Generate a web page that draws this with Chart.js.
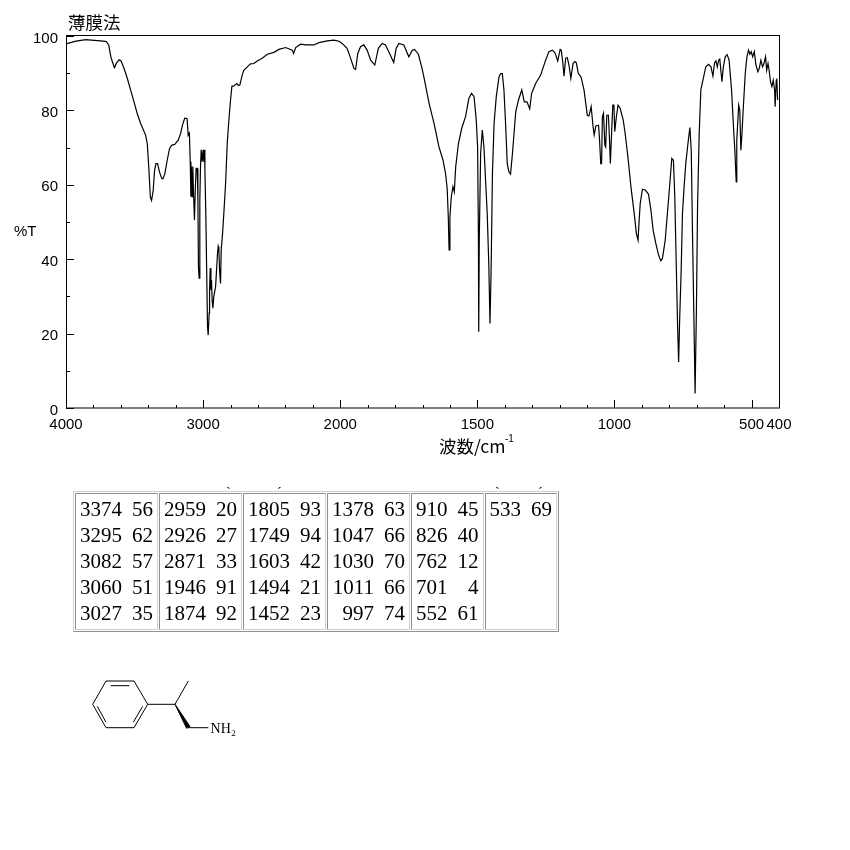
<!DOCTYPE html>
<html>
<head>
<meta charset="utf-8">
<title>IR spectrum</title>
<script src="https://cdn.jsdelivr.net/npm/chart.js@4"></script>
<style>
html, body { margin: 0; padding: 0; background: #fff; }
#chart { position: absolute; left: 0; top: 0; }
#peaks {
    position: absolute; left: 73px; top: 491px; height: 141px;
    border-collapse: separate; border-spacing: 1px;
    border-style: solid; border-width: 1px;
    border-color: #d0d0d0 #909090 #909090 #d0d0d0;
    font: 21px/26px "Liberation Serif", serif; color: #000;
}
#peaks td {
    vertical-align: top; padding: 2px 4px 0 4px; box-sizing: border-box;
    border-style: solid; border-width: 1px;
    border-color: #909090 #d0d0d0 #d0d0d0 #909090;
}
#peaks .row { white-space: nowrap; height: 26px; }
#peaks .wn { display: inline-block; text-align: right; }
#peaks .t { display: inline-block; width: 22px; margin-left: 9px; text-align: right; }
.stray { position: absolute; top: 485px; font: 14px "Liberation Serif", serif; }
#mol { position: absolute; left: 80px; top: 665px; }
</style>
</head>
<body>
<canvas id="chart" width="850" height="850"></canvas>
<table id="peaks"><tr id="peak-row"></tr></table>
<span class="stray" style="left:226px">`</span>
<span class="stray" style="left:277px">´</span>
<span class="stray" style="left:495px">`</span>
<span class="stray" style="left:538px">´</span>
<svg id="mol" width="170" height="80" stroke="#000" stroke-width="1" fill="none">
    <polygon points="26,16 54,16 67.7,39.3 54,62.7 26,62.7 12.7,39.3"/>
    <line x1="30.7" y1="20.7" x2="49.3" y2="20.7"/>
    <line x1="53.3" y1="57.3" x2="62.7" y2="41.3"/>
    <line x1="26" y1="57.3" x2="17.3" y2="41.3"/>
    <line x1="67.7" y1="39.3" x2="95" y2="39.3"/>
    <line x1="95" y1="39.3" x2="108.3" y2="16"/>
    <polygon points="95,39.3 106.6,63.3 110,61.5" fill="#000"/>
    <line x1="108.3" y1="62.7" x2="128.3" y2="62.7"/>
    <text x="130.5" y="67.5" stroke="none" fill="#000" font-family="Liberation Serif" font-size="14" letter-spacing="0.2">NH<tspan dy="3.5" font-size="9">2</tspan></text>
</svg>

<script>
// spectrum: wavenumber (cm-1) and %T, same order in both lists
const wavenumbers = [
    4000, 3927, 3855, 3818, 3746, 3705, 3688, 3673, 3661, 3647, 3632, 3613, 3598, 3576, 3552,
    3528, 3504, 3480, 3455, 3436, 3419, 3407, 3395, 3385, 3376, 3364, 3354, 3344, 3332, 3318,
    3303, 3293, 3279, 3262, 3245, 3230, 3206, 3182, 3165, 3148, 3134, 3117, 3109, 3100, 3094,
    3089, 3085, 3080, 3075, 3070, 3063, 3058, 3051, 3043, 3038, 3034, 3029, 3024, 3019, 3014,
    3007, 3000, 2995, 2990, 2987, 2980, 2973, 2968, 2963, 2956, 2953, 2948, 2943, 2939, 2934,
    2929, 2922, 2909, 2902, 2895, 2890, 2885, 2880, 2873, 2868, 2858, 2849, 2836, 2824, 2812,
    2800, 2790, 2778, 2754, 2742, 2732, 2715, 2703, 2678, 2654, 2630, 2605, 2569, 2532, 2484,
    2447, 2398, 2350, 2340, 2325, 2289, 2252, 2192, 2155, 2094, 2046, 2009, 1993, 1975, 1962,
    1950, 1944, 1936, 1926, 1914, 1902, 1889, 1874, 1861, 1847, 1835, 1820, 1805, 1796, 1786,
    1768, 1750, 1737, 1729, 1715, 1703, 1695, 1676, 1658, 1640, 1625, 1616, 1610, 1606, 1603,
    1600, 1595, 1589, 1584, 1579, 1569, 1557, 1543, 1531, 1521, 1512, 1504, 1499, 1496, 1495,
    1493, 1488, 1482, 1476, 1464, 1458, 1454, 1450, 1445, 1439, 1431, 1421, 1415, 1409, 1403,
    1397, 1391, 1385, 1379, 1372, 1360, 1350, 1338, 1329, 1319, 1309, 1302, 1287, 1269, 1251,
    1239, 1226, 1217, 1207, 1198, 1194, 1188, 1184, 1178, 1172, 1166, 1159, 1151, 1144, 1139,
    1132, 1122, 1111, 1099, 1093, 1085, 1078, 1074, 1068, 1058, 1055, 1050, 1047, 1044, 1040,
    1035, 1032, 1028, 1022, 1018, 1015, 1010, 1006, 1002, 999, 993, 987, 979, 968, 961,
    951, 940, 928, 920, 914, 910, 906, 898, 888, 876, 867, 859, 849, 839, 831,
    825, 815, 807, 798, 791, 785, 780, 774, 770, 766, 762, 757, 752, 746, 740,
    732, 725, 720, 715, 709, 706, 701, 697, 691, 685, 676, 667, 657, 648, 641,
    635, 630, 625, 620, 616, 608, 603, 596, 589, 582, 573, 566, 561, 556, 554,
    547, 543, 539, 535, 530, 523, 517, 511, 506, 501, 496, 490, 484, 477, 472,
    466, 460, 455, 449, 445, 440, 436, 431, 426, 421, 416, 414, 410, 408, 405
];
const transmittance = [
    97.9, 98.6, 99.0, 98.9, 98.7, 98.5, 97.5, 94.4, 93.0, 91.5, 92.7, 93.6, 93.3, 91.2, 88.5,
    85.4, 82.3, 79.1, 76.4, 74.8, 73.3, 71.0, 63.9, 56.7, 55.8, 58.5, 63.9, 65.7, 65.7, 63.4,
    61.8, 61.6, 63.0, 66.6, 69.7, 70.6, 70.9, 72.0, 73.7, 76.4, 77.9, 77.8, 73.3, 73.9, 66.2,
    56.8, 64.9, 56.8, 64.9, 57.7, 50.5, 57.7, 64.4, 64.4, 55.9, 38.0, 34.9, 55.9, 64.9, 69.4,
    66.2, 69.4, 66.2, 69.4, 64.4, 51.4, 34.4, 21.9, 19.6, 25.5, 31.7, 37.6, 31.7, 34.4, 29.0,
    26.8, 30.0, 32.6, 37.1, 41.6, 43.4, 42.5, 37.1, 33.5, 42.5, 47.0, 52.3, 60.4, 71.2, 77.4,
    82.8, 86.5, 86.5, 87.2, 86.7, 86.8, 89.5, 90.8, 91.7, 92.5, 92.6, 93.3, 94.0, 95.1, 95.6,
    96.4, 96.9, 96.2, 95.3, 96.9, 97.8, 97.6, 97.6, 98.2, 98.7, 98.9, 98.6, 98.0, 96.7, 94.0,
    91.3, 91.0, 95.3, 97.1, 97.6, 96.2, 93.5, 92.2, 96.7, 98.0, 97.6, 95.3, 92.9, 96.7, 98.0,
    97.6, 94.4, 96.2, 96.4, 95.1, 91.7, 89.0, 81.9, 76.5, 70.2, 66.6, 63.0, 59.0, 51.4, 42.5,
    51.4, 56.8, 59.5, 58.1, 64.8, 71.1, 75.2, 78.3, 83.2, 84.6, 83.7, 77.4, 70.2, 45.1, 20.5,
    45.1, 68.4, 74.7, 70.2, 52.3, 38.0, 22.7, 36.2, 63.0, 76.5, 83.7, 89.0, 89.9, 89.9, 85.5,
    76.5, 65.7, 63.5, 62.9, 68.4, 79.6, 82.8, 85.5, 82.3, 82.3, 80.4, 84.6, 87.3, 89.5, 93.5,
    95.8, 96.2, 95.5, 93.3, 96.4, 96.2, 92.6, 89.2, 94.0, 94.2, 92.2, 88.6, 92.6, 93.1, 92.8,
    90.0, 89.0, 85.5, 78.7, 78.5, 81.0, 75.6, 73.4, 75.8, 76.0, 72.9, 65.7, 65.7, 78.3, 79.2,
    70.7, 70.2, 78.7, 78.7, 72.0, 65.7, 74.7, 81.4, 81.4, 74.3, 78.3, 81.4, 80.5, 77.4, 73.8,
    67.5, 59.5, 52.3, 46.9, 45.1, 50.5, 55.0, 58.8, 58.6, 57.5, 53.2, 47.8, 44.2, 41.1, 39.6,
    40.2, 45.1, 52.3, 60.4, 67.1, 66.6, 56.8, 36.2, 22.7, 12.4, 24.5, 36.2, 52.3, 59.5, 65.7,
    71.1, 75.4, 69.3, 45.1, 18.3, 3.9, 27.2, 54.1, 73.8, 85.5, 88.6, 91.7, 92.4, 91.7, 89.2,
    92.8, 93.3, 91.7, 93.5, 93.8, 87.7, 91.7, 94.4, 95.0, 93.5, 85.5, 75.6, 69.3, 60.8, 72.0,
    81.4, 80.0, 69.3, 73.8, 81.0, 90.0, 94.4, 96.2, 95.1, 95.8, 94.4, 95.8, 92.2, 90.4, 91.3,
    93.5, 91.7, 92.6, 94.4, 90.8, 92.6, 90.8, 87.7, 86.4, 88.1, 85.5, 81.0, 88.1, 88.6, 82.8
];

// axis ticks
const xLabelTicks = [4000, 3000, 2000, 1500, 1000, 500, 400];
const xMinorTicks = [3800, 3600, 3400, 3200, 2800, 2600, 2400, 2200, 1900, 1800, 1700, 1600,
    1400, 1300, 1200, 1100, 900, 800, 700, 600];
const yLabelTicks = [0, 20, 40, 60, 80, 100];
const yMinorTicks = [10, 30, 50, 70, 90];

// peak table, one list per column of the printed table
const peakWavenumbers = [
    [3374, 3295, 3082, 3060, 3027],
    [2959, 2926, 2871, 1946, 1874],
    [1805, 1749, 1603, 1494, 1452],
    [1378, 1047, 1030, 1011, 997],
    [910, 826, 762, 701, 552],
    [533]
];
const peakTransmittance = [
    [56, 62, 57, 51, 35],
    [20, 27, 33, 91, 92],
    [93, 94, 42, 21, 23],
    [63, 66, 70, 66, 74],
    [45, 40, 12, 4, 61],
    [69]
];

const chartTitle = '薄膜法';
const yTitle = '%T';
const xTitle = '波数/cm';
const xTitleSup = '-1';

// wavenumber axis: the scale doubles below 2000 cm-1
class FoldedScale extends Chart.LinearScale {
    buildTicks() {
        return xLabelTicks.concat(xMinorTicks).sort((a, b) => b - a).map(v => ({ value: v }));
    }
    getPixelForValue(value) {
        const units = value >= 2000 ? (4000 - value) / 2 : 1000 + (2000 - value);
        return this.getPixelForDecimal(units / 2600);
    }
    getValueForPixel(pixel) {
        const units = this.getDecimalForPixel(pixel) * 2600;
        return units <= 1000 ? 4000 - units * 2 : 2000 - (units - 1000);
    }
}
FoldedScale.id = 'folded';
FoldedScale.defaults = Chart.LinearScale.defaults;
Chart.register(FoldedScale);

// frame, inward ticks and the free standing labels
const framePlugin = {
    id: 'frame',
    afterDraw(chart) {
        const { ctx, chartArea: a, scales } = chart;
        ctx.save();
        ctx.strokeStyle = '#000';
        ctx.lineWidth = 1;
        ctx.strokeRect(a.left + 0.5, a.top - 0.5, a.right - a.left, a.bottom - a.top + 0.5);
        const tick = (x1, y1, x2, y2) => {
            ctx.beginPath();
            ctx.moveTo(x1, y1);
            ctx.lineTo(x2, y2);
            ctx.stroke();
        };
        xLabelTicks.forEach(v => { const x = Math.round(scales.x.getPixelForValue(v)) + 0.5; tick(x, a.bottom, x, a.bottom - 8); });
        xMinorTicks.forEach(v => { const x = Math.round(scales.x.getPixelForValue(v)) + 0.5; tick(x, a.bottom, x, a.bottom - 3); });
        yLabelTicks.forEach(v => { const y = Math.round(scales.y.getPixelForValue(v)) + 0.5; tick(a.left, y, a.left + 8, y); });
        yMinorTicks.forEach(v => { const y = Math.round(scales.y.getPixelForValue(v)) + 0.5; tick(a.left, y, a.left + 4, y); });

        ctx.fillStyle = '#000';
        ctx.textBaseline = 'middle';
        ctx.textAlign = 'left';
        ctx.font = '17.5px "Noto Sans CJK JP"';
        ctx.fillText(chartTitle, 68, 22);
        ctx.fillText(xTitle, 439, 446);
        ctx.font = '15px "Liberation Sans"';
        ctx.fillText(yTitle, 14, 232);
        ctx.font = '10px "Liberation Sans"';
        ctx.fillText(xTitleSup, 505, 439);
        ctx.restore();
    }
};

new Chart(document.getElementById('chart').getContext('2d'), {
    type: 'line',
    data: {
        datasets: [{
            data: wavenumbers.map((w, i) => ({ x: w, y: transmittance[i] })),
            borderColor: '#000',
            borderWidth: 1.2,
            pointRadius: 0,
            tension: 0,
            clip: false
        }]
    },
    options: {
        responsive: false,
        animation: false,
        layout: { padding: { left: 0, top: 36, right: 71, bottom: 0 } },
        plugins: { legend: { display: false }, tooltip: { enabled: false } },
        scales: {
            x: {
                type: 'folded',
                min: 400,
                max: 4000,
                afterFit(scale) { scale.height = 850 - 408; },
                border: { display: false },
                grid: { display: false },
                ticks: {
                    autoSkip: false,
                    maxRotation: 0,
                    minRotation: 0,
                    padding: 0,
                    color: '#000',
                    font: { family: 'Liberation Sans', size: 15 },
                    callback: v => xLabelTicks.includes(v) ? String(v) : ''
                }
            },
            y: {
                min: 0,
                max: 100,
                afterFit(scale) { scale.width = 66; },
                afterBuildTicks(scale) { scale.ticks = yLabelTicks.map(v => ({ value: v })); },
                border: { display: false },
                grid: { display: false },
                ticks: {
                    padding: 0,
                    labelOffset: 2.5,
                    color: '#000',
                    font: { family: 'Liberation Sans', size: 15 }
                }
            }
        }
    },
    plugins: [framePlugin]
});

// peak table
const peakRow = document.getElementById('peak-row');
peakWavenumbers.forEach((column, c) => {
    const cell = document.createElement('td');
    const wnWidth = Math.max(...column).toString().length * 10.5;
    cell.innerHTML = column.map((w, r) =>
        `<div class="row"><span class="wn" style="width:${wnWidth}px">${w}</span><span class="t">${peakTransmittance[c][r]}</span></div>`
    ).join('');
    peakRow.appendChild(cell);
});
</script>
</body>
</html>
